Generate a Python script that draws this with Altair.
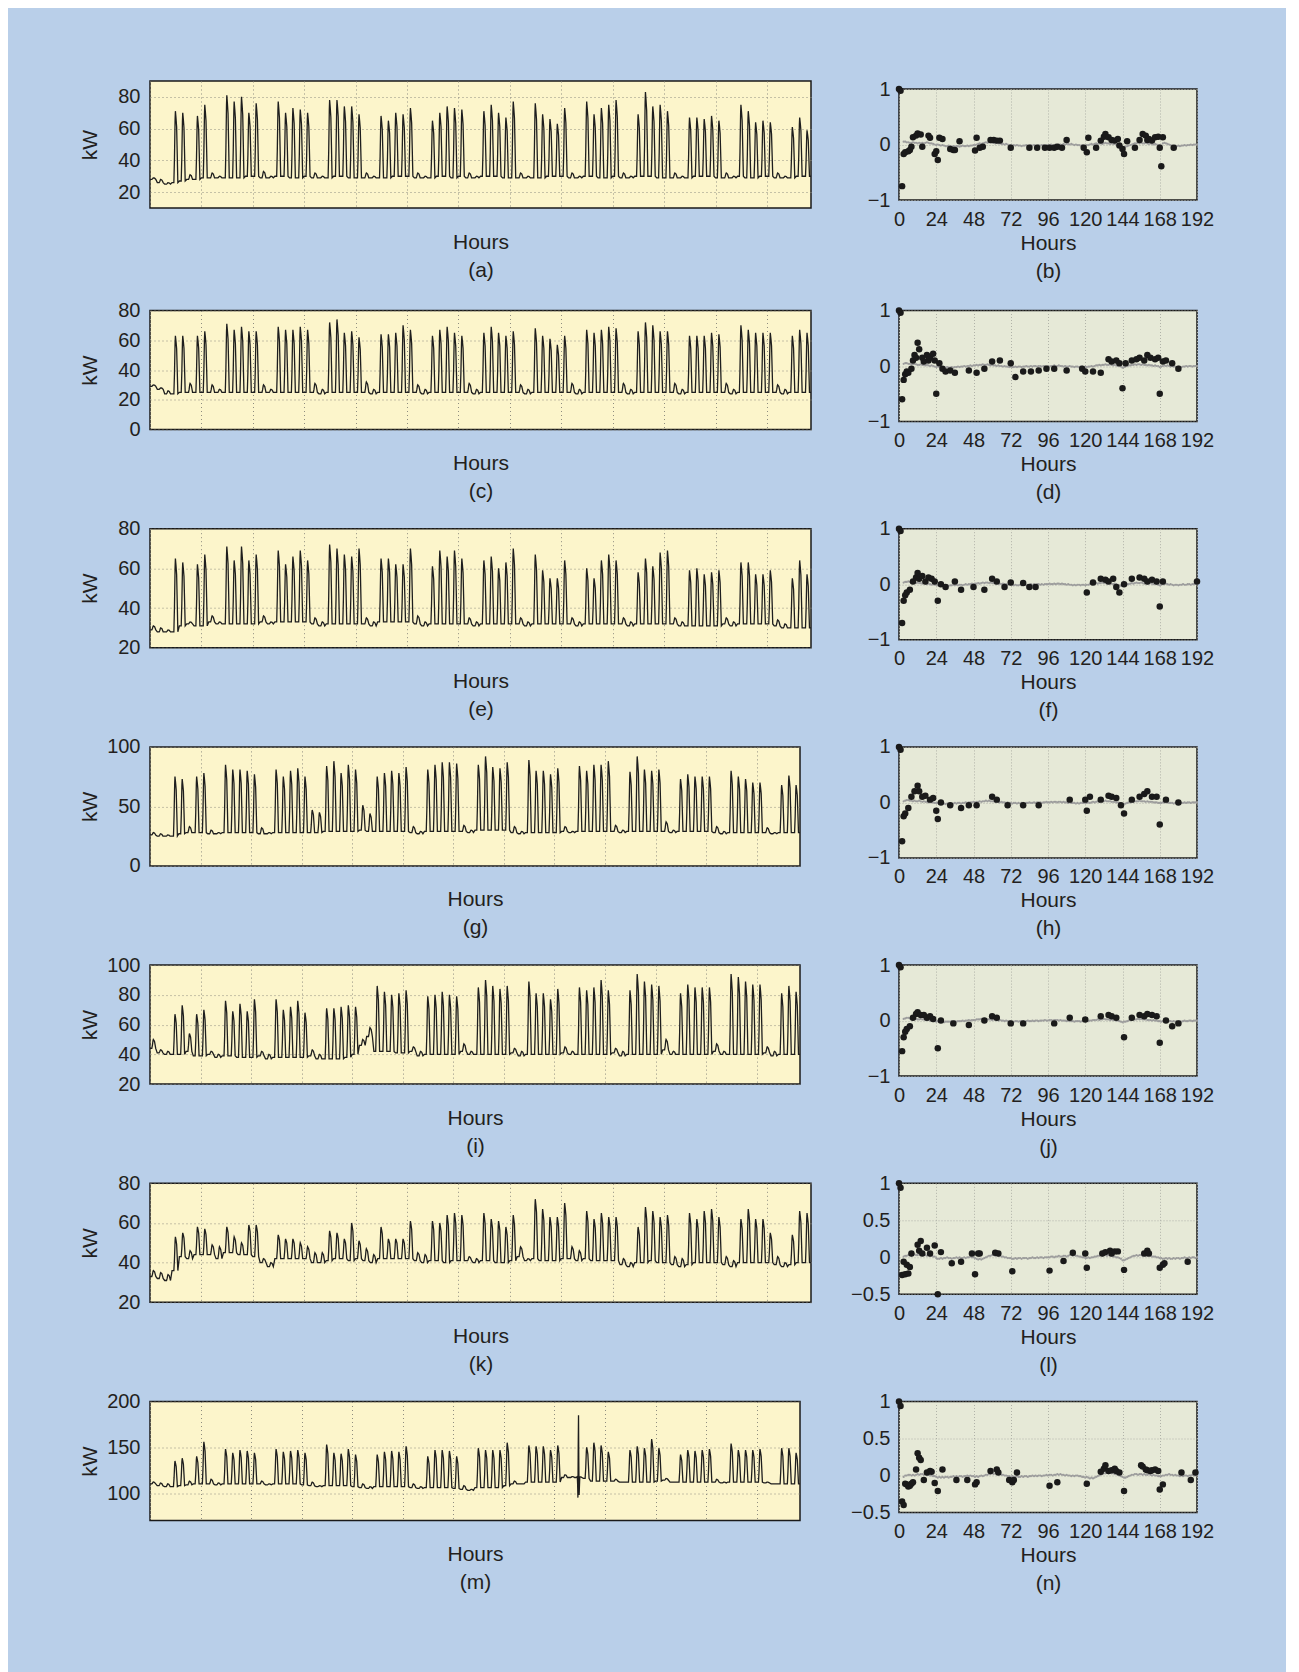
import altair as alt
import pandas as pd

FONT = "Liberation Sans"
TEXT = "#231f20"
BG = "#b9cfe9"
YELLOW = "#fcf5cb"
GREEN = "#e6e9d7"
LINE = "#1e1e1e"
GRID_L = "#8f8d80"
GRID_R = "#b0b2a8"

# hourly shape of one day, as hours after midnight and share of the day's swing
PROFILE_H = [0, 6, 8, 10, 11, 13, 15, 17, 19]
PROFILE_F = [0.0, 0.0, 0.35, 0.88, 1.0, 0.9, 0.78, 0.4, 0.0]

# ---------- daily peak / night level (kW), 90 days from hour 0 ----------
A_PEAK = [29, 28, 26, 71, 70, 31, 68, 75,
          32, 30, 81, 77, 80, 70, 76,
          33, 30, 77, 70, 73, 72, 70,
          32, 30, 78, 78, 74, 74, 69,
          32, 30, 68, 65, 70, 69, 73,
          32, 30, 65, 70, 74, 73, 72,
          32, 30, 71, 75, 70, 67, 77,
          32, 30, 76, 69, 66, 63, 73,
          32, 30, 77, 69, 73, 75, 78,
          32, 30, 69, 83, 74, 75, 71,
          32, 30, 67, 67, 66, 68, 65,
          32, 30, 75, 71, 64, 65, 64,
          32, 30, 61, 67, 59]
A_BASE = [28, 26, 25, 26, 27, 28, 28, 29,
          29, 29, 29, 29, 29, 30, 30,
          29, 29, 30, 30, 29, 29, 30,
          29, 29, 29, 30, 30, 29, 29,
          29, 29, 29, 29, 30, 30, 30,
          29, 29, 29, 30, 30, 29, 30,
          29, 29, 30, 30, 30, 29, 29,
          29, 29, 29, 29, 30, 30, 30,
          29, 29, 30, 30, 29, 29, 30,
          29, 29, 30, 30, 30, 29, 29,
          29, 29, 29, 30, 30, 30, 29,
          29, 29, 30, 29, 29, 30, 30,
          29, 29, 29, 30, 30]

C_PEAK = [30, 28, 26, 63, 63, 31, 63, 66,
          30, 27, 71, 67, 69, 66, 66,
          30, 27, 69, 67, 67, 69, 67,
          31, 27, 72, 74, 65, 66, 62,
          32, 27, 64, 64, 65, 70, 67,
          30, 27, 63, 67, 69, 65, 63,
          31, 27, 65, 69, 65, 63, 66,
          30, 27, 68, 63, 61, 57, 63,
          31, 27, 67, 65, 67, 69, 68,
          31, 27, 66, 72, 70, 66, 66,
          31, 27, 63, 63, 63, 65, 64,
          31, 27, 70, 67, 65, 65, 65,
          30, 27, 63, 67, 65]
C_BASE = [29, 27, 24, 24, 25, 25, 25, 25,
          25, 25, 25, 25, 25, 25, 25,
          25, 25, 25, 25, 25, 25, 25,
          25, 24, 25, 25, 25, 25, 25,
          25, 24, 25, 25, 25, 25, 25,
          25, 24, 25, 25, 25, 25, 25,
          25, 24, 25, 25, 25, 25, 25,
          25, 24, 25, 25, 25, 25, 25,
          25, 24, 25, 25, 25, 25, 25,
          25, 24, 25, 25, 25, 25, 25,
          25, 24, 25, 25, 25, 25, 25,
          25, 24, 25, 25, 25, 25, 25,
          25, 24, 25, 25, 25]

E_PEAK = [31, 30, 29, 65, 63, 33, 62, 67,
          36, 33, 71, 64, 71, 64, 67,
          36, 33, 69, 62, 66, 69, 64,
          35, 33, 72, 70, 67, 66, 70,
          35, 33, 65, 65, 62, 62, 70,
          36, 33, 61, 69, 66, 69, 65,
          35, 33, 64, 66, 60, 63, 70,
          35, 33, 67, 59, 55, 55, 64,
          35, 33, 60, 55, 64, 67, 64,
          35, 33, 58, 65, 61, 68, 69,
          35, 33, 59, 60, 57, 58, 59,
          35, 33, 63, 63, 57, 57, 59,
          34, 32, 55, 64, 57]
E_BASE = [29, 28, 28, 28, 31, 32, 31, 31,
          33, 32, 32, 32, 32, 32, 32,
          33, 32, 33, 33, 33, 33, 33,
          32, 31, 32, 32, 32, 32, 32,
          32, 31, 33, 33, 33, 33, 33,
          32, 31, 32, 32, 32, 32, 32,
          32, 31, 32, 32, 32, 32, 32,
          32, 31, 32, 32, 32, 32, 32,
          32, 31, 32, 32, 32, 32, 32,
          32, 31, 32, 32, 32, 32, 32,
          32, 31, 31, 31, 31, 31, 31,
          32, 31, 32, 32, 32, 32, 32,
          31, 30, 30, 30, 30]

G_PEAK = [28, 27, 26, 75, 73, 33, 75, 78,
          30, 28, 85, 81, 81, 80, 77,
          32, 28, 81, 75, 80, 82, 75,
          47, 45, 84, 88, 78, 85, 81,
          51, 44, 75, 78, 80, 78, 83,
          33, 29, 81, 85, 87, 87, 86,
          34, 30, 85, 92, 83, 82, 87,
          33, 29, 89, 80, 80, 77, 82,
          33, 29, 84, 80, 85, 85, 88,
          34, 30, 79, 92, 81, 80, 81,
          37, 30, 73, 77, 75, 75, 75,
          33, 29, 80, 75, 73, 70, 70,
          32, 28, 68, 76, 68]
G_BASE = [26, 25, 25, 25, 27, 28, 28, 28,
          27, 27, 28, 28, 28, 28, 28,
          27, 27, 28, 28, 28, 28, 28,
          28, 28, 29, 29, 29, 29, 29,
          30, 29, 29, 29, 29, 29, 29,
          28, 27, 29, 29, 29, 29, 29,
          29, 28, 30, 30, 30, 30, 30,
          28, 27, 28, 28, 28, 28, 28,
          29, 28, 29, 29, 29, 29, 29,
          29, 28, 29, 29, 29, 29, 29,
          29, 28, 29, 29, 29, 29, 29,
          28, 27, 28, 28, 28, 28, 28,
          28, 27, 28, 28, 28]

I_PEAK = [50, 43, 42, 67, 73, 54, 67, 70,
          42, 40, 76, 69, 74, 69, 77,
          42, 40, 77, 70, 72, 76, 68,
          43, 40, 71, 71, 72, 73, 72,
          50, 58, 86, 82, 80, 81, 83,
          45, 42, 79, 80, 82, 80, 79,
          47, 42, 85, 90, 86, 84, 86,
          44, 42, 89, 81, 81, 77, 84,
          45, 42, 85, 83, 85, 90, 83,
          44, 42, 83, 94, 89, 87, 86,
          50, 42, 81, 87, 85, 85, 85,
          47, 42, 94, 92, 89, 87, 87,
          45, 42, 81, 86, 82]
I_BASE = [44, 41, 40, 40, 40, 42, 39, 39,
          40, 38, 39, 39, 38, 38, 38,
          39, 37, 38, 38, 38, 38, 38,
          39, 37, 37, 37, 37, 38, 40,
          46, 52, 42, 42, 42, 41, 41,
          42, 39, 40, 40, 40, 40, 40,
          42, 40, 40, 40, 40, 40, 40,
          41, 39, 40, 40, 40, 40, 40,
          41, 40, 40, 40, 40, 40, 40,
          41, 39, 40, 40, 40, 40, 40,
          43, 40, 40, 40, 40, 40, 40,
          42, 40, 40, 40, 40, 40, 40,
          41, 39, 40, 40, 40]

K_PEAK = [36, 35, 34, 53, 55, 46, 58, 57,
          49, 48, 58, 53, 50, 59, 59,
          42, 40, 54, 52, 52, 50, 48,
          45, 45, 56, 55, 52, 60, 51,
          47, 44, 58, 52, 52, 52, 61,
          45, 44, 61, 60, 64, 65, 64,
          43, 42, 65, 62, 61, 58, 64,
          48, 42, 72, 67, 63, 63, 70,
          48, 46, 66, 62, 65, 63, 63,
          42, 40, 58, 68, 66, 63, 64,
          43, 42, 65, 62, 66, 67, 63,
          43, 41, 62, 67, 62, 62, 55,
          43, 40, 54, 66, 65]
K_BASE = [33, 32, 31, 36, 43, 42, 44, 44,
          44, 42, 45, 45, 44, 44, 43,
          40, 38, 42, 42, 42, 42, 42,
          40, 40, 41, 42, 42, 41, 42,
          41, 40, 42, 42, 42, 42, 42,
          41, 40, 41, 41, 40, 41, 41,
          41, 40, 41, 41, 40, 40, 41,
          43, 41, 42, 41, 41, 41, 42,
          42, 41, 42, 41, 41, 41, 41,
          39, 38, 40, 40, 41, 40, 40,
          39, 38, 39, 40, 40, 40, 40,
          39, 38, 40, 40, 40, 40, 40,
          39, 38, 39, 40, 40]

M_PEAK = [112, 111, 110, 135, 138, 113, 140, 156,
          115, 111, 148, 144, 147, 146, 144,
          113, 110, 148, 145, 146, 147, 144,
          112, 108, 153, 144, 143, 148, 142,
          110, 107, 142, 145, 146, 145, 151,
          110, 107, 140, 147, 147, 146, 140,
          108, 104, 149, 147, 147, 147, 155,
          113, 110, 152, 151, 151, 147, 152,
          120, 118, 118, 150, 155, 152, 145,
          115, 112, 147, 151, 149, 159, 149,
          116, 112, 142, 147, 146, 147, 148,
          115, 112, 154, 147, 147, 147, 148,
          112, 110, 149, 149, 144]
M_BASE = [110, 108, 107, 107, 108, 109, 110, 110,
          110, 109, 110, 110, 110, 110, 110,
          110, 109, 110, 110, 110, 110, 109,
          108, 107, 108, 108, 108, 108, 107,
          106, 105, 107, 107, 107, 107, 107,
          106, 105, 106, 106, 106, 106, 105,
          104, 103, 106, 106, 106, 106, 108,
          110, 110, 112, 112, 112, 112, 112,
          117, 117, 117, 116, 113, 113, 113,
          113, 112, 112, 112, 112, 112, 113,
          114, 112, 112, 112, 112, 112, 112,
          112, 111, 112, 112, 112, 112, 112,
          111, 110, 110, 110, 110]
# the short disturbance in (m)
M_EVENT_H = [1420, 1421, 1422, 1423, 1424, 1425, 1426, 1428]
M_EVENT_V = [118, 110, 95, 150, 185, 130, 98, 116]

# ---------- correlation panels: all lags (x100, grey) ----------
GRAY_B = [100, 97, -75, 5, 5, 4, 4, 3, 3, 4, 3, 3, 2, 3, 2, 3, 2, 3, 4, 3, 2, 2, 1, 0,
          -1, 0, -1, -2, -1, -2, -3, -3, -2, -3, -4, -3, -4, -3, -3, -4, -3, -2, -3, -3, -2, -3, -2, -2,
          -1, -1, 0, 1, 2, 1, 2, 3, 4, 3, 4, 4, 3, 3, 2, 3, 2, 2, 1, 1, 0, 1, 0, -1,
          -1, -2, -1, -2, -1, -2, -2, -3, -2, -2, -1, -2, -2, -1, -2, -1, -2, -2, -1, -2, -1, -1, -2, -1,
          -1, -1, 0, -1, -1, 0, -1, 0, 0, -1, 1, 0, 1, 1, 0, 1, 0, -1, 0, -1, -1, -2, -1, -2,
          -2, -1, -1, 0, 1, 0, 1, 2, 1, 2, 2, 1, 2, 3, 2, 2, 1, 2, 1, 1, 0, 0, -2, -3,
          -4, -5, -4, -3, -2, -1, 0, 1, 2, 2, 3, 2, 3, 2, 2, 3, 2, 1, 2, 1, 0, 1, 0, -1,
          -1, -2, 2, 3, 2, 1, 0, -1, -2, -3, -2, -3, -2, -3, -2, -2, -1, -2, -1, -1, 0, -1, 0, 0,
          0]
GRAY_D = [100, 96, -60, 4, 5, 5, 4, 4, 3, 3, 4, 3, 2, 2, 3, 2, 2, 1, 2, 1, 0, 1, 0, -1,
          -2, -1, -2, -2, -3, -2, -3, -2, -3, -3, -2, -3, -2, -2, -1, -2, -1, -1, 0, -1, 0, 0, 1, 0,
          1, 1, 2, 1, 2, 2, 3, 2, 2, 3, 2, 1, 2, 1, 1, 0, 1, 0, 0, -1, 0, -1, -1, -2,
          -1, -2, -2, -1, -2, -1, -1, -2, -1, -1, 0, -1, -1, 0, -1, 0, 0, -1, 0, 0, -1, 0, 0, -1,
          0, -1, 0, 0, 1, 0, 0, 1, 0, 0, -1, 0, -1, -1, 0, -1, -1, -2, -1, -1, -2, -1, -1, -2,
          -1, -2, -1, -1, 0, -1, 0, 1, 1, 2, 1, 2, 2, 3, 2, 2, 3, 2, 1, 2, 1, 0, 1, -1,
          -3, -2, -1, 0, 1, 1, 2, 2, 3, 2, 3, 3, 2, 3, 2, 2, 1, 2, 1, 1, 0, 1, 0, 0,
          -2, -1, 0, 1, 0, 1, 0, -1, 0, -1, -1, -2, -1, -1, -2, -1, -1, 0, -1, 0, 0, -1, 0, 0,
          0]
GRAY_F = [100, 96, -70, 3, 4, 4, 5, 4, 3, 4, 3, 2, 3, 2, 2, 1, 2, 1, 0, 1, 0, -1, 0, -1,
          -1, -2, -1, -2, -2, -3, -2, -2, -3, -2, -2, -1, -2, -1, -2, -1, -1, -2, -1, 0, -1, 0, 0, 1,
          0, 1, 1, 2, 1, 2, 3, 2, 3, 3, 2, 3, 2, 2, 1, 2, 1, 1, 0, 1, 0, 0, -1, 0,
          -1, -1, -2, -1, -2, -2, -1, -2, -1, -1, -2, -1, -1, 0, -1, 0, -1, 0, 0, -1, 0, -1, 0, 0,
          0, 1, 0, 0, 1, 0, 1, 1, 0, 1, 0, 0, -1, 0, -1, -1, -2, -1, -2, -1, -1, -2, -1, -1,
          -2, -1, -1, 0, 0, 1, 1, 2, 1, 2, 2, 3, 2, 2, 1, 2, 1, 1, 0, 1, 0, -1, -2, -3,
          -3, -2, -1, 0, 0, 1, 2, 1, 2, 3, 2, 2, 3, 2, 1, 2, 1, 1, 2, 1, 0, 1, 0, -1,
          -2, -1, 0, 0, 1, 0, -1, 0, -1, -2, -1, -1, -2, -1, -1, 0, -1, -1, 0, 0, -1, 0, 0, 1,
          0]
GRAY_H = [100, 95, -70, 2, 3, 4, 4, 3, 3, 2, 3, 2, 2, 3, 2, 1, 2, 1, 1, 0, 1, 0, 0, -1,
          -1, -1, -2, -1, -2, -2, -3, -2, -3, -2, -2, -2, -1, -2, -1, -1, -2, -1, -1, 0, -1, 0, 0, 0,
          1, 0, 1, 1, 2, 1, 2, 2, 3, 2, 3, 2, 2, 2, 1, 1, 1, 0, 1, 0, 0, -1, 0, -1,
          -1, -2, -1, -1, -2, -1, -2, -1, -1, -2, -1, -1, 0, -1, -1, 0, -1, 0, 0, 0, -1, 0, 0, 1,
          0, 0, 1, 0, 1, 1, 0, 1, 1, 0, 1, 0, 0, -1, 0, -1, -1, -1, -2, -1, -2, -1, -1, -1,
          -1, -1, 0, -1, 0, 1, 0, 1, 2, 1, 2, 2, 2, 3, 2, 2, 2, 1, 1, 1, 0, 0, -1, -2,
          -3, -3, -2, -1, 0, 0, 1, 1, 2, 2, 2, 3, 2, 2, 2, 1, 2, 1, 1, 1, 0, 0, 0, -1,
          -1, -1, 0, 0, 0, 0, -1, -1, -1, -2, -1, -1, -1, -2, -1, -1, 0, -1, 0, 0, -1, 0, 0, 0,
          0]
GRAY_J = [100, 96, -55, 3, 4, 5, 5, 4, 4, 3, 3, 3, 2, 2, 3, 2, 2, 1, 1, 1, 0, 0, -1, -1,
          -2, -1, -2, -2, -2, -3, -2, -2, -2, -2, -1, -2, -1, -2, -1, -1, -1, 0, -1, 0, 0, 1, 0, 1,
          1, 1, 2, 2, 2, 3, 2, 3, 3, 2, 2, 2, 1, 2, 1, 1, 0, 1, 0, 0, -1, 0, -1, -1,
          -1, -2, -2, -1, -1, -2, -1, -1, -1, -2, -1, 0, -1, -1, 0, -1, 0, 0, -1, 0, 0, 0, 1, 0,
          0, 1, 1, 0, 1, 1, 1, 0, 1, 0, 0, 0, -1, 0, -1, -1, -1, -2, -1, -1, -1, -2, -1, -1,
          -1, 0, -1, 0, 0, 1, 1, 1, 2, 1, 2, 2, 3, 2, 2, 2, 1, 2, 1, 1, 0, 0, -1, -2,
          -3, -2, -2, -1, 0, 1, 1, 2, 2, 2, 3, 2, 3, 2, 2, 2, 1, 1, 1, 0, 1, 0, 0, -1,
          -1, -2, -1, 0, 0, 0, -1, -1, -2, -1, -2, -1, -1, -1, -2, -1, 0, -1, -1, 0, 0, -1, 0, 0,
          0]
GRAY_L = [100, 94, -24, 1, 2, 2, 3, 3, 2, 3, 4, 3, 3, 4, 3, 4, 3, 3, 2, 3, 2, 2, 1, 1,
          -1, -2, -2, -1, -2, -1, -1, 0, -1, -1, -2, -1, -1, 0, -1, 0, -1, -1, 0, -1, 0, 0, 1, 0,
          0, -1, -2, -3, -2, -3, -2, -1, 0, 1, 2, 2, 3, 3, 2, 3, 2, 2, 1, 1, 0, 0, -1, -1,
          -1, -2, -2, -1, -2, -1, -1, -2, -1, -1, -1, -2, -1, -1, 0, -1, -1, 0, -1, 0, 0, -1, 0, 0,
          0, 0, 1, 1, 0, 1, 1, 2, 1, 1, 2, 2, 1, 2, 3, 3, 2, 3, 2, 2, 1, 1, 0, 0,
          -1, -1, 0, -1, 0, 0, 1, 1, 2, 2, 3, 2, 3, 3, 2, 3, 2, 2, 1, 1, 0, 0, -1, -2,
          -4, -4, -3, -2, -1, 0, 1, 2, 2, 3, 2, 3, 3, 2, 3, 2, 2, 3, 2, 1, 1, 1, 0, 0,
          -1, -1, -2, -2, -1, -2, -1, -2, -2, -1, -2, -1, -1, -2, -1, -1, 0, -1, -1, 0, -1, 0, 0, -1,
          0]
GRAY_N = [100, 94, -35, -2, 0, 0, 1, 1, 0, 1, 0, 1, 2, 1, 2, 2, 1, 2, 1, 1, 0, 0, -1, -1,
          -2, -3, -2, -3, -2, -3, -2, -2, -3, -2, -2, -1, -2, -1, -2, -1, -1, -2, -1, -1, 0, -1, 0, -1,
          -1, -2, -1, -2, -1, 0, -1, 0, 1, 1, 2, 2, 3, 2, 3, 3, 2, 2, 1, 1, 0, 0, -1, -1,
          -2, -1, -2, -2, -1, -2, -2, -1, -2, -1, -1, -2, -1, -1, 0, -1, 0, -1, 0, 0, -1, 0, 0, 1,
          0, 1, 1, 0, 1, 1, 2, 1, 2, 1, 1, 0, 1, 0, 0, -1, 0, -1, 0, 0, -1, -1, -2, -2,
          -3, -2, -3, -4, -3, -4, -3, -2, -1, 0, 1, 2, 3, 3, 4, 3, 4, 3, 3, 2, 2, 1, 0, -1,
          -2, -3, -3, -2, -1, 0, 1, 1, 2, 2, 1, 2, 2, 1, 2, 1, 1, 2, 1, 0, 1, 0, 0, -1,
          -1, -1, 0, 0, 1, 1, 2, 1, 1, 0, 1, 0, 0, -1, 0, -1, 0, 0, -1, 0, 0, 1, 0, 0,
          0]

# ---------- correlation panels: highlighted lags (lag, value) ----------
B_DOTS = [(0, 1.0), (1, 0.97), (2, -0.75), (3, -0.17), (4, -0.14), (6, -0.12), (7, -0.1), (8, -0.04),
          (9, 0.13), (11, 0.16), (12, 0.2), (14, 0.18), (15, -0.04), (19, 0.16), (20, 0.12), (23, -0.17),
          (24, -0.12), (25, -0.28), (26, 0.12), (28, 0.1), (33, -0.08), (35, -0.1), (36, -0.1), (39, 0.06),
          (49, -0.11), (50, 0.12), (52, -0.06), (54, -0.04), (59, 0.08), (61, 0.08), (63, 0.07), (65, 0.07),
          (72, -0.06), (84, -0.06), (89, -0.06), (94, -0.06), (97, -0.06), (100, -0.06), (102, -0.04),
          (105, -0.06), (108, 0.08), (119, -0.06), (121, -0.14), (122, 0.12), (127, -0.06), (130, 0.07),
          (132, 0.14), (133, 0.19), (135, 0.13), (137, 0.08), (139, 0.07), (141, 0.1), (142, -0.02),
          (144, -0.08), (145, -0.17), (147, 0.06), (152, -0.06), (155, 0.08), (157, 0.19), (159, 0.16),
          (160, 0.08), (161, 0.1), (163, 0.07), (165, 0.13), (167, 0.14), (168, -0.06), (169, -0.39),
          (170, 0.13), (177, -0.06)]
D_DOTS = [(0, 1.0), (1, 0.96), (2, -0.6), (3, -0.25), (4, -0.15), (5, -0.1), (6, -0.12), (8, -0.05),
          (9, 0.1), (10, 0.2), (11, 0.15), (12, 0.42), (13, 0.3), (15, 0.15), (16, 0.08), (18, 0.2),
          (19, 0.1), (20, 0.15), (22, 0.22), (23, 0.1), (24, -0.5), (26, 0.05), (28, -0.05), (30, -0.1),
          (33, -0.08), (36, -0.12), (45, -0.08), (50, -0.12), (55, -0.05), (60, 0.08), (65, 0.1),
          (72, 0.05), (75, -0.2), (80, -0.1), (85, -0.1), (90, -0.08), (95, -0.05), (100, -0.05),
          (108, -0.08), (118, -0.05), (120, -0.1), (125, -0.1), (130, -0.12), (135, 0.12), (137, 0.08),
          (140, 0.1), (142, 0.05), (144, -0.4), (146, 0.05), (150, 0.1), (153, 0.12), (155, 0.15),
          (158, 0.1), (160, 0.2), (162, 0.15), (165, 0.12), (167, 0.15), (168, -0.5), (170, 0.08),
          (172, 0.1), (176, 0.05), (180, -0.05)]
F_DOTS = [(0, 1.0), (1, 0.96), (2, -0.7), (3, -0.3), (4, -0.2), (5, -0.15), (7, -0.1), (9, 0.05),
          (11, 0.12), (12, 0.2), (13, 0.1), (15, 0.15), (17, 0.05), (19, 0.12), (21, 0.1), (23, 0.05),
          (25, -0.3), (27, 0.0), (30, -0.05), (36, 0.05), (40, -0.1), (48, -0.05), (55, -0.1), (60, 0.1),
          (63, 0.05), (68, -0.05), (72, 0.03), (80, 0.02), (84, -0.05), (88, -0.05), (121, -0.15),
          (125, 0.03), (130, 0.1), (133, 0.08), (135, 0.05), (138, 0.1), (140, -0.05), (142, -0.15),
          (145, 0.0), (150, 0.1), (155, 0.12), (158, 0.1), (160, 0.05), (163, 0.08), (166, 0.05),
          (168, -0.4), (170, 0.05), (192, 0.05)]
H_DOTS = [(0, 1.0), (1, 0.95), (2, -0.7), (3, -0.25), (4, -0.2), (6, -0.1), (8, 0.1), (10, 0.2),
          (12, 0.3), (13, 0.2), (15, 0.1), (17, 0.12), (20, 0.05), (22, 0.08), (24, -0.15), (25, -0.3),
          (27, 0.0), (33, -0.05), (40, -0.1), (45, -0.05), (50, -0.05), (60, 0.1), (63, 0.05),
          (70, -0.05), (80, -0.05), (90, -0.05), (110, 0.05), (120, 0.05), (121, -0.15), (123, 0.1),
          (130, 0.05), (135, 0.12), (137, 0.1), (140, 0.08), (143, -0.05), (145, -0.2), (150, 0.05),
          (155, 0.1), (158, 0.15), (160, 0.2), (163, 0.1), (166, 0.1), (168, -0.4), (172, 0.05),
          (180, 0.0)]
J_DOTS = [(0, 1.0), (1, 0.96), (2, -0.55), (3, -0.3), (4, -0.2), (5, -0.15), (7, -0.1), (9, 0.05),
          (11, 0.12), (12, 0.15), (14, 0.1), (16, 0.1), (18, 0.05), (20, 0.08), (22, 0.03), (25, -0.5),
          (27, 0.0), (35, -0.05), (45, -0.08), (55, 0.0), (60, 0.08), (63, 0.05), (72, -0.05),
          (80, -0.05), (100, -0.05), (110, 0.05), (120, 0.02), (130, 0.08), (135, 0.1), (137, 0.08),
          (140, 0.05), (145, -0.3), (150, 0.05), (155, 0.1), (158, 0.08), (160, 0.12), (163, 0.1),
          (166, 0.08), (168, -0.4), (172, 0.0), (176, -0.1), (180, -0.05)]
L_DOTS = [(0, 1.0), (1, 0.94), (2, -0.24), (3, -0.06), (4, -0.23), (5, -0.1), (6, -0.22), (7, -0.13),
          (8, 0.05), (12, 0.17), (13, 0.09), (14, 0.22), (15, 0.05), (18, 0.13), (20, 0.05), (23, 0.16),
          (25, -0.5), (27, 0.07), (34, -0.08), (40, -0.06), (47, 0.05), (49, -0.23), (51, 0.05),
          (52, 0.05), (62, 0.06), (64, 0.05), (73, -0.19), (97, -0.18), (106, -0.05), (112, 0.06),
          (120, 0.05), (121, -0.14), (131, 0.05), (133, 0.07), (136, 0.09), (137, 0.05), (139, 0.08),
          (141, 0.08), (145, -0.17), (158, 0.05), (160, 0.09), (161, 0.05), (168, -0.14), (170, -0.1),
          (171, -0.08), (186, -0.06)]
N_DOTS = [(0, 1.0), (1, 0.94), (2, -0.35), (3, -0.4), (4, -0.11), (5, -0.12), (6, -0.15), (7, -0.14),
          (8, -0.11), (9, -0.09), (11, 0.08), (12, 0.3), (13, 0.24), (14, 0.21), (16, -0.06), (18, 0.04),
          (20, 0.06), (21, 0.05), (23, -0.1), (25, -0.21), (28, 0.08), (37, -0.06), (44, -0.06),
          (49, -0.12), (50, -0.09), (59, 0.06), (63, 0.08), (64, 0.04), (71, -0.06), (73, -0.09),
          (74, -0.06), (76, 0.04), (97, -0.14), (102, -0.09), (121, -0.11), (130, 0.05), (132, 0.09),
          (133, 0.14), (135, 0.06), (137, 0.07), (139, 0.09), (140, 0.06), (142, 0.04), (145, -0.21),
          (156, 0.14), (157, 0.12), (159, 0.08), (160, 0.07), (162, 0.06), (163, 0.07), (165, 0.08),
          (167, 0.06), (168, -0.19), (170, -0.12), (182, 0.04), (188, -0.06), (191, 0.04)]

Y_LEFT = {
    "a": ([10, 90], [20, 40, 60, 80]),
    "c": ([0, 80], [0, 20, 40, 60, 80]),
    "e": ([20, 80], [20, 40, 60, 80]),
    "g": ([0, 100], [0, 50, 100]),
    "i": ([20, 100], [20, 40, 60, 80, 100]),
    "k": ([20, 80], [20, 40, 60, 80]),
    "m": ([70, 200], [100, 150, 200]),
}
X_WEEK_TICKS = list(range(0, 2161, 168))
X_LAG_TICKS = list(range(0, 193, 24))


def build_series(peak, base, extra_h=(), extra_v=()):
    hs, vs = [], []
    lo = min(extra_h) if extra_h else None
    hi = max(extra_h) if extra_h else None
    for d, (p, b) in enumerate(zip(peak, base)):
        for h, f in zip(PROFILE_H, PROFILE_F):
            t = d * 24 + h
            if lo is not None and lo <= t <= hi:
                continue
            hs.append(t)
            vs.append(b + f * (p - b))
    n = min(len(peak), len(base))
    hs.append(n * 24)
    vs.append(base[n - 1])
    hs += list(extra_h)
    vs += list(extra_v)
    return pd.DataFrame({"h": hs, "v": vs}).sort_values("h").reset_index(drop=True)


def left_panel(df, key, w, h):
    ydom, yticks = Y_LEFT[key]
    x = alt.X("h:Q", scale=alt.Scale(domain=[0, 2160], nice=False, zero=False),
              axis=alt.Axis(values=X_WEEK_TICKS, labels=False, ticks=False, domain=False,
                            grid=True, gridColor=GRID_L, gridDash=[1, 3], gridWidth=1,
                            title=["Hours", f"({key})"], titleX=w / 2, titleY=23,
                            titleBaseline="top", titleAlign="center", titleLineHeight=28))
    y = alt.Y("v:Q", scale=alt.Scale(domain=ydom, nice=False, zero=False),
              axis=alt.Axis(values=yticks, ticks=False, domain=False, labelPadding=10,
                            labelFlush=False,
                            grid=True, gridColor=GRID_L, gridDash=[1, 3], gridWidth=1,
                            title="kW", titleX=-54, titleY=h / 2, titleAngle=270,
                            titleBaseline="alphabetic", titleAlign="center"))
    return alt.Chart(df).mark_line(color=LINE, strokeWidth=1.3, clip=True).encode(x=x, y=y).properties(
        width=w, height=h,
        view=alt.ViewBackground(fill=YELLOW, stroke="#1a1a1a", strokeWidth=1.5))


def right_panel(gray, dots, key, ydom, yticks, w=298, h=111):
    gdf = pd.DataFrame({"lag": list(range(len(gray))), "r": [v / 100 for v in gray]})
    bdf = pd.DataFrame(dots, columns=["lag", "r"])
    x = alt.X("lag:Q", scale=alt.Scale(domain=[0, 192], nice=False, zero=False),
              axis=alt.Axis(values=X_LAG_TICKS, ticks=False, domain=False, labelPadding=9,
                            labelFlush=False, labelOverlap=False,
                            grid=True, gridColor=GRID_R, gridDash=[1, 2], gridWidth=1,
                            title=["Hours", f"({key})"], titleX=w / 2, titleY=32,
                            titleBaseline="top", titleAlign="center", titleLineHeight=28))
    y = alt.Y("r:Q", scale=alt.Scale(domain=ydom, nice=False, zero=False),
              axis=alt.Axis(values=yticks, ticks=False, domain=False, labelPadding=9,
                            labelFlush=False, labelOverlap=False, format="~g",
                            grid=True, gridColor=GRID_R, gridDash=[1, 2], gridWidth=1, title=None))
    g = alt.Chart(gdf).mark_circle(size=5, color="#9c9c9c", opacity=1).encode(x=x, y=y)
    b = alt.Chart(bdf).mark_circle(size=42, color="#1a1a1a", opacity=1).encode(x=x, y=y)
    return alt.layer(g, b).properties(
        width=w, height=h,
        view=alt.ViewBackground(fill=GREEN, stroke="#1a1a1a", strokeWidth=1.5))


YR1 = ([-1, 1], [-1, 0, 1])
YR2 = ([-0.5, 1], [-0.5, 0, 0.5, 1])

rows_spec = [
    ("a", A_PEAK, A_BASE, (), (), 661, 127, "b", GRAY_B, B_DOTS, YR1),
    ("c", C_PEAK, C_BASE, (), (), 661, 119, "d", GRAY_D, D_DOTS, YR1),
    ("e", E_PEAK, E_BASE, (), (), 661, 119, "f", GRAY_F, F_DOTS, YR1),
    ("g", G_PEAK, G_BASE, (), (), 650, 119, "h", GRAY_H, H_DOTS, YR1),
    ("i", I_PEAK, I_BASE, (), (), 650, 119, "j", GRAY_J, J_DOTS, YR1),
    ("k", K_PEAK, K_BASE, (), (), 661, 119, "l", GRAY_L, L_DOTS, YR2),
    ("m", M_PEAK, M_BASE, M_EVENT_H, M_EVENT_V, 650, 119, "n", GRAY_N, N_DOTS, YR2),
]

rows = []
for i, (lk, pk, bs, eh, ev, w, h, rk, gr, dots, yr) in enumerate(rows_spec):
    left = left_panel(build_series(pk, bs, eh, ev), lk, w, h)
    right = right_panel(gr, dots, rk, yr[0], yr[1])
    hs = 899 - 150 - w
    if i == 0:
        rows.append(alt.hconcat(left, right, spacing=hs, bounds="flush", center=True))
    else:
        rows.append(alt.hconcat(left, right, spacing=hs, bounds="flush"))

lower = alt.vconcat(*rows[1:], spacing=14.2)
chart = alt.vconcat(rows[0], lower, spacing=17.5).properties(
    padding={"left": 70, "top": 70, "right": 71, "bottom": 86},
    background=BG,
).configure_axis(
    labelFont=FONT, titleFont=FONT, labelFontSize=20, titleFontSize=21,
    labelColor=TEXT, titleColor=TEXT, titleFontWeight="normal",
)

chart.save("out.html", embed_options={"renderer": "svg", "actions": False})
